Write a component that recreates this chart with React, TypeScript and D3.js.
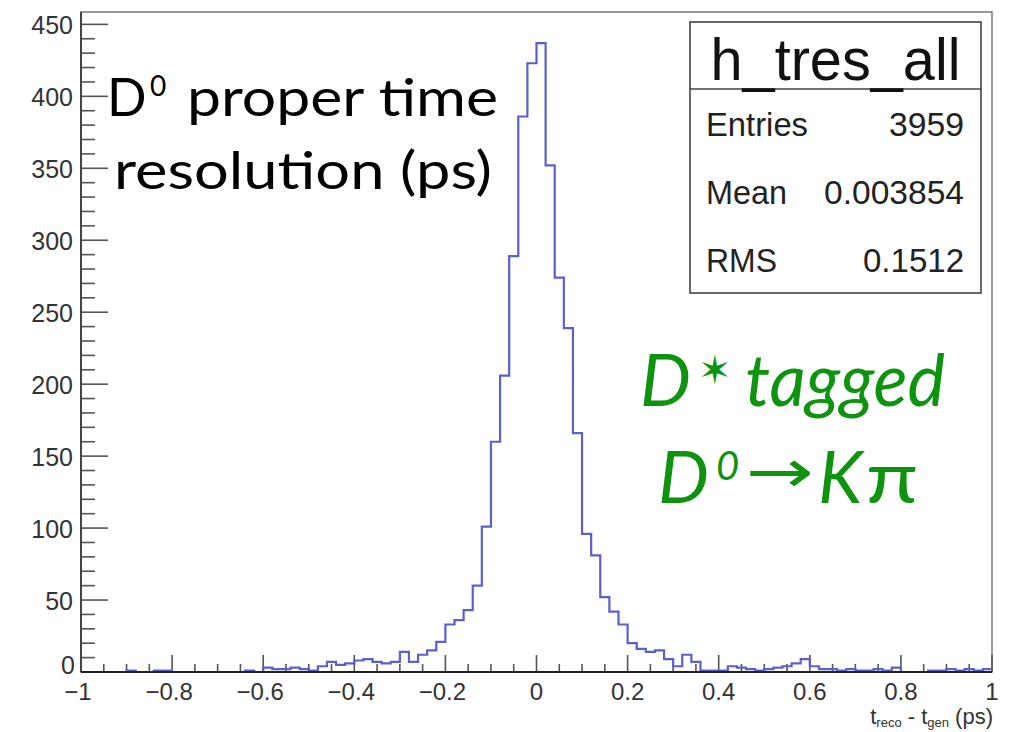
import React from "react";
import * as d3 from "d3";

// ---- data ----
const binCounts: number[] = [
  0, 0, 0, 0, 0, 1, 0, 0, 1, 1,
  0, 0, 0, 0, 0, 0, 0, 0, 1, 0,
  3, 2, 2, 3, 2, 1, 4, 7, 5, 6,
  8, 9, 7, 6, 7, 14, 7, 12, 15, 21,
  33, 36, 43, 60, 101, 160, 206, 289, 386, 423,
  437, 352, 274, 239, 166, 96, 81, 52, 42, 33,
  20, 16, 14, 15, 9, 4, 12, 7, 1, 1,
  1, 4, 3, 2, 1, 2, 3, 4, 6, 9,
  4, 2, 2, 1, 2, 1, 1, 2, 1, 3,
  0, 0, 0, 1, 1, 2, 1, 2, 1, 2,
];
const xRange: [number, number] = [-1, 1];
const yMax = 458.6;
const yTickValues = [0, 50, 100, 150, 200, 250, 300, 350, 400, 450];
const yTickLabels = ["0", "50", "100", "150", "200", "250", "300", "350", "400", "450"];
const xTickValues = [-1, -0.8, -0.6, -0.4, -0.2, 0, 0.2, 0.4, 0.6, 0.8, 1];
const xTickLabels = ["\u22121", "\u22120.8", "\u22120.6", "\u22120.4", "\u22120.2", "0", "0.2", "0.4", "0.6", "0.8", "1"];
const statTitle = "h_tres_all";
const statLabels = ["Entries", "Mean", "RMS"];
const statValues = ["3959", "0.003854", "0.1512"];

const SANS = "'Liberation Sans', Arial, Helvetica, sans-serif";
const HUMAN = "Lato, 'Open Sans', sans-serif";

export default function App() {
  const W = 1012, H = 732;
  const L = 81, R = 992, T = 12, B = 672;
  const x = d3.scaleLinear().domain(xRange).range([L, R]);
  const y = d3.scaleLinear().domain([0, yMax]).range([B, T]);

  const nb = binCounts.length;
  const bw = (xRange[1] - xRange[0]) / nb;
  const pts: [number, number][] = [];
  binCounts.forEach((c, i) => {
    const x0 = xRange[0] + i * bw;
    pts.push([x(x0), y(c)]);
    pts.push([x(x0 + bw), y(c)]);
  });
  const histPath = d3.line()(pts) || "";

  const yMinor = d3.range(0, yMax, 10).filter((v) => v % 50 !== 0);
  const xMinor = d3.range(0, 41).map((i) => -1 + i * 0.05).filter((v) => Math.abs(Math.round(v * 5) - v * 5) > 1e-6);

  const green = "#0e930e";
  const tickCol = "#555";

  // stat box geometry
  const sbL = 690, sbR = 981, sbT = 22, sbB = 293, sbDiv = 89;
  const rowBase = [136, 204, 272];
  const labelW = [102, 81, 71];
  const valueW = [75, 140, 101];

  return (
    <div style={{ position: "fixed", left: 0, top: 0 }}>
      <svg width={W} height={H} style={{ display: "block", background: "#fff" }}>
        {/* frame */}
        <rect x={L} y={T} width={R - L} height={B - T} fill="none" stroke="#777" strokeWidth={1.5} />

        {/* y ticks */}
        {yTickValues.map((v) => (
          <line key={"yt" + v} x1={L} x2={L + 27} y1={y(v)} y2={y(v)} stroke={tickCol} strokeWidth={1.6} />
        ))}
        {yMinor.map((v) => (
          <line key={"ym" + v} x1={L} x2={L + 14} y1={y(v)} y2={y(v)} stroke={tickCol} strokeWidth={1.6} />
        ))}
        {/* x ticks */}
        {xTickValues.map((v) => (
          <line key={"xt" + v} x1={x(v)} x2={x(v)} y1={B} y2={B - 17} stroke={tickCol} strokeWidth={1.6} />
        ))}
        {xMinor.map((v, i) => (
          <line key={"xm" + i} x1={x(v)} x2={x(v)} y1={B} y2={B - 8} stroke={tickCol} strokeWidth={1.6} />
        ))}

        {/* histogram */}
        <path d={histPath} fill="none" stroke="#5b60cc" strokeWidth={2.2} strokeLinejoin="miter" />

        {/* axes lines */}
        <line x1={L} x2={L} y1={T} y2={B} stroke="#444" strokeWidth={2} />
        <line x1={L} x2={R} y1={B} y2={B} stroke="#222" strokeWidth={2} />

        {/* y tick labels */}
        {yTickValues.map((v, i) => (
          <text key={"yl" + v} x={v === 0 ? 75 : 73} y={y(v) + (v === 0 ? 2 : 10)} textAnchor="end" fontFamily={SANS} fontSize={25} fill="#333">
            {yTickLabels[i]}
          </text>
        ))}
        {/* x tick labels */}
        {xTickValues.map((v, i) => (
          <text key={"xl" + v} x={x(v) - (v < 0 ? 3 : 0)} y={700} textAnchor="middle" fontFamily={SANS} fontSize={24} fill="#333">
            {xTickLabels[i]}
          </text>
        ))}

        {/* x axis title */}
        <text x={993} y={724} textAnchor="end" fontFamily={SANS} fontSize={22} fill="#333">
          t<tspan fontSize={13} dy={3}>reco</tspan>
          <tspan dy={-3}> - t</tspan>
          <tspan fontSize={13} dy={3}>gen</tspan>
          <tspan dy={-3}> (ps)</tspan>
        </text>

        {/* stats box */}
        <rect x={sbL} y={sbT} width={sbR - sbL} height={sbB - sbT} fill="#fff" stroke="#444" strokeWidth={1.6} />
        <line x1={sbL} x2={sbR} y1={sbDiv} y2={sbDiv} stroke="#444" strokeWidth={1.6} />
        <text x={(sbL + sbR) / 2} y={80} textAnchor="middle" fontFamily={SANS} fontSize={60} fill="#111"
          textLength={250} lengthAdjust="spacingAndGlyphs">
          {statTitle}
        </text>
        {statLabels.map((s, i) => (
          <g key={s}>
            <text x={706} y={rowBase[i]} fontFamily={SANS} fontSize={33} fill="#222"
              textLength={labelW[i]} lengthAdjust="spacingAndGlyphs">{s}</text>
            <text x={964} y={rowBase[i]} textAnchor="end" fontFamily={SANS} fontSize={33} fill="#222"
              textLength={valueW[i]} lengthAdjust="spacingAndGlyphs">{statValues[i]}</text>
          </g>
        ))}

        {/* black annotation */}
        <text x={107} y={116} fontFamily={HUMAN} fontSize={52} fill="#000">D</text>
        <text x={150} y={96} fontFamily={HUMAN} fontSize={28} fill="#000">0</text>
        <text x={187} y={116} fontFamily={HUMAN} fontSize={52} fill="#000" textLength={311} lengthAdjust="spacingAndGlyphs">proper time</text>
        <text x={114} y={189} fontFamily={HUMAN} fontSize={52} fill="#000" textLength={378} lengthAdjust="spacingAndGlyphs">resolution (ps)</text>

        {/* green annotation */}
        <text x={640} y={406} fontFamily={HUMAN} fontStyle="italic" fontSize={72} fill={green}>D</text>
        <text x={698} y={384} fontFamily="'DejaVu Sans', sans-serif" fontSize={40} fill={green}>{"\u2736"}</text>
        <text x={745} y={406} fontFamily={HUMAN} fontStyle="italic" fontSize={72} fill={green} textLength={200} lengthAdjust="spacingAndGlyphs">tagged</text>
        <text x={658} y={503} fontFamily={HUMAN} fontStyle="italic" fontSize={72} fill={green}>D</text>
        <text x={716} y={480} fontFamily={HUMAN} fontStyle="italic" fontSize={40} fill={green}>0</text>
        <text x={746} y={492} fontFamily="'DejaVu Sans', sans-serif" fontSize={60} fill={green} textLength={68} lengthAdjust="spacingAndGlyphs">{"\u2192"}</text>
        <text x={818} y={503} fontFamily={HUMAN} fontStyle="italic" fontSize={72} fill={green}>K</text>
        <text x={866} y={503} fontFamily={HUMAN} fontSize={72} fill={green} textLength={52} lengthAdjust="spacingAndGlyphs">{"\u03c0"}</text>
      </svg>
    </div>
  );
}
